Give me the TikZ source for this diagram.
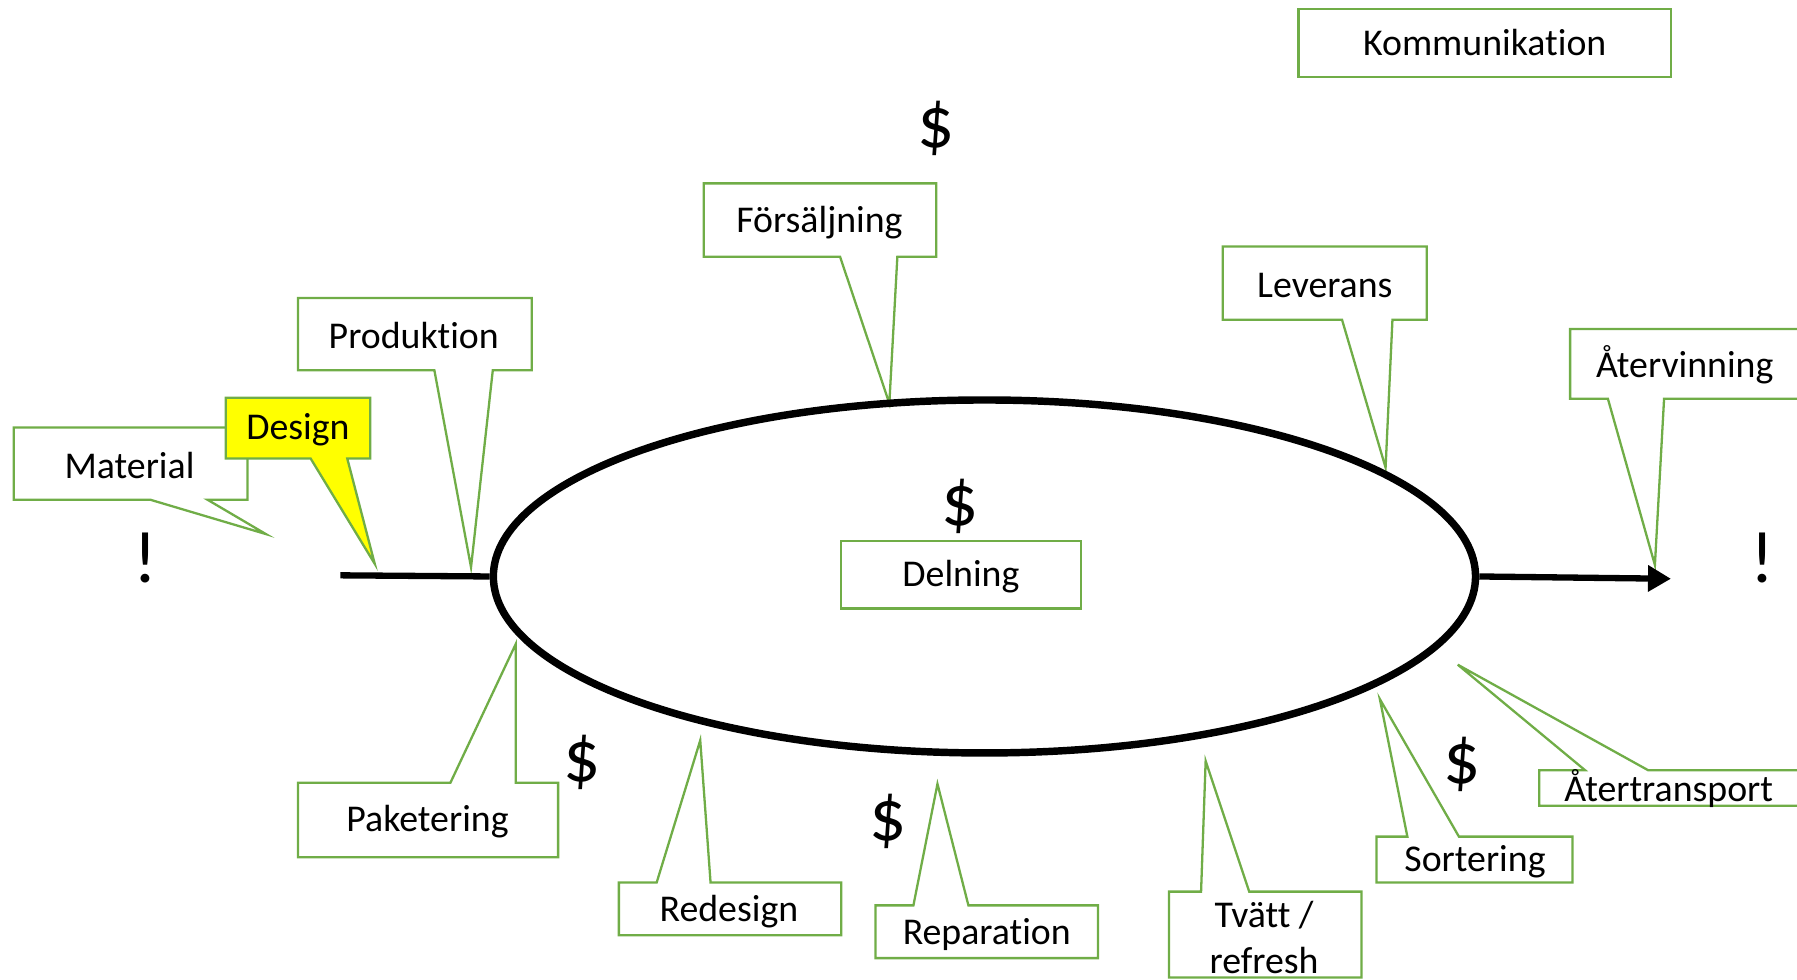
\documentclass[tikz,border=0pt]{standalone}
\usepackage{fontspec}
\setmainfont{Carlito}[Ligatures={NoCommon,NoRare,NoContextual}]
\usetikzlibrary{shapes.geometric,arrows.meta}
\definecolor{cgreen}{RGB}{112,173,71}
\definecolor{cyellow}{RGB}{255,255,0}
\newcommand\nolig{\kern0pt\relax}
% bottom-pointer callout: x1,y1,x2,y2,base1,base2,tipx,tipy,style
\newcommand\cbot[9]{\draw[box,#9] (#1,#2) -- (#3,#2) -- (#3,#4) -- (#6,#4) -- (#7,#8) -- (#5,#4) -- (#1,#4) -- cycle;}
% top-pointer callout
\newcommand\ctop[9]{\draw[box,#9] (#1,#2) -- (#5,#2) -- (#7,#8) -- (#6,#2) -- (#3,#2) -- (#3,#4) -- (#1,#4) -- cycle;}
\begin{document}
\begin{tikzpicture}[x=1pt,y=-1pt,
  box/.style={draw=cgreen,line width=2pt,fill=white,line join=miter},
  lbl/.style={font=\fontsize{33}{40}\selectfont,inner sep=0pt,text=black,align=center},
  rbox/.style={box,lbl,minimum width=#1,minimum height=59pt},
  big/.style={font=\fontsize{64}{76}\selectfont,inner sep=0pt}]
\useasboundingbox (0,0) rectangle (1568,855);
\clip (0,0) rectangle (1568,855);

% plain boxes
\node[rbox=325pt] (komm) at (1295.5,37.5) {Kommunikat\nolig ion};

% callouts above
\cbot{614}{160}{817}{224}{733}{783}{776}{352}{}
\node[lbl] (fors) at (715,194) {Försäljning};
\cbot{260}{260}{464}{323}{379}{430}{411}{495}{}
\node[lbl] (prod) at (361,293) {Produkt\nolig ion};
\cbot{1067}{215}{1245}{279}{1171}{1215}{1209}{408}{}
\node[lbl] (lev) at (1156,249) {Leverans};
\cbot{1370}{287}{1580}{348}{1403}{1452}{1444}{493}{}
\node[lbl] (aterv) at (1470,318) {Återvinning};
\cbot{12}{373}{216}{436}{131}{181}{232}{466}{}
\node[lbl] (mat) at (113,406) {Material};
\cbot{197}{347}{323}{400}{271}{303}{327}{492}{fill=cyellow}
\node[lbl] (des) at (260,375) {Design};

% callouts below
\ctop{260}{683}{487}{748}{393}{450}{450}{562}{}
\node[lbl] (pak) at (373,717) {Paketering};
\ctop{540}{770}{734}{816}{573}{620}{611}{646}{}
\node[lbl] (red) at (636,795) {Redesign};
\ctop{764}{790}{958}{836}{797}{845}{818}{684}{}
\node[lbl] (rep) at (861,815) {Reparat\nolig ion};
\ctop{1020}{778}{1188}{853}{1048}{1090}{1052}{664}{}
\node[lbl] (tvatt) at (1103,818) {Tvätt /\\refresh};
\ctop{1201}{730}{1372}{770}{1228}{1273}{1204}{610}{}
\node[lbl] (sort) at (1287,752) {Sortering};
\ctop{1343}{672}{1580}{703}{1383}{1438}{1272}{580}{}
\node[lbl] (atert) at (1456,688) {Återtransport};

% loop
\node[ellipse,draw,line width=6.5pt,minimum width=857pt,minimum height=308pt,inner sep=0pt] (loop) at (859,503) {};
\coordinate (in) at (297,502);
\coordinate (out) at (1458,505);
\draw[line width=5.5pt] (in) -- (loop.west);
\draw[line width=5.5pt,-{Triangle[length=20pt,width=22pt]}] (loop.east) -- (out);

\node[rbox=209pt] (del) at (838.5,501.5) {};
\node[lbl] (deltext) at (838.5,503) {Delning};

% symbols
\node[big] (d1) at (817,112) {\$};
\node[big] (d2) at (838,442) {\$};
\node[big] (d3) at (508,665) {\$};
\node[big] (d4) at (775,717) {\$};
\node[big] (d5) at (1276,667) {\$};
\node[big] (e1) at (127,487) {!};
\node[big] (e2) at (1538,487) {!};
\end{tikzpicture}
\end{document}
